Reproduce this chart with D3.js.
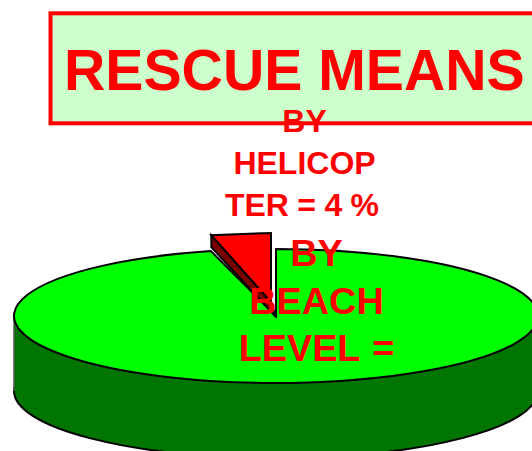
<!DOCTYPE html>
<html>
<head>
<meta charset="UTF-8">
<title>Rescue Means</title>
<style>
  html, body { margin: 0; padding: 0; background: #fff; overflow: hidden; }
  svg { display: block; }
  text { font-family: "Liberation Sans", Arial, sans-serif; font-weight: bold; fill: #ff0000; }
</style>
</head>
<body>
<svg id="chart"></svg>
<script src="https://cdn.jsdelivr.net/npm/d3@7/dist/d3.min.js"></script>
<script>
// data (beach level value is cut off in the source, 96 = rest of 100)
var categories = ["By helicopter", "By beach level"];
var values = [4, 96];
var titleText = "RESCUE MEANS";
var helicopterLines = ["BY", "HELICOP", "TER = 4 %"];
var beachLines = ["BY", "BEACH", "LEVEL ="];

var width = 532;
var height = 451;
var cx = 276;
var cy = 316;
var rx = 262;
var ry = 67;
var depth = 75;

// exploded slice is drawn a bit narrower and taller than the disc
var sliceCx = 271;
var sliceCy = 302;
var sliceRx = 240;
var sliceRy = 69;

var svg = d3.select("#chart").attr("width", width).attr("height", height);

// title box
svg.append("rect")
  .attr("x", 50.5).attr("y", 13.3)
  .attr("width", 500).attr("height", 110)
  .attr("fill", "#ccffcc")
  .attr("stroke", "#ff0000")
  .attr("stroke-width", 4);

svg.append("text")
  .attr("x", 64).attr("y", 90)
  .attr("font-size", 57.2)
  .text(titleText);

// pie starts left of 12 o'clock so the small slice ends on the vertical
var total = d3.sum(values);
var start = -2 * Math.PI * values[0] / total;
var pie = d3.pie().sort(null).startAngle(start).endAngle(start + 2 * Math.PI);
var slices = pie(values);
var arc = d3.arc().innerRadius(0).outerRadius(rx);

var pieGroup = svg.append("g").attr("id", "pie");

// side wall of the disc
pieGroup.append("ellipse")
  .attr("cx", cx).attr("cy", cy + depth)
  .attr("rx", rx).attr("ry", ry)
  .attr("fill", "#007600")
  .attr("stroke", "#000")
  .attr("stroke-width", 2);
pieGroup.append("rect")
  .attr("x", cx - rx).attr("y", cy)
  .attr("width", rx * 2).attr("height", depth)
  .attr("fill", "#007600");
pieGroup.append("line")
  .attr("x1", cx - rx).attr("x2", cx - rx)
  .attr("y1", cy).attr("y2", cy + depth)
  .attr("stroke", "#555").attr("stroke-width", 1.5);

// big slice top
pieGroup.append("path")
  .attr("d", arc(slices[1]))
  .attr("transform", "translate(" + cx + "," + cy + ") scale(1," + (ry / rx) + ")")
  .attr("fill", "#00ff00")
  .attr("stroke", "#000")
  .attr("stroke-width", 2)
  .style("vector-effect", "non-scaling-stroke");

// small slice: outer edge is a chord between the projected slice angles
function project(angle) {
  return [sliceCx + sliceRx * Math.sin(angle), sliceCy - sliceRy * Math.cos(angle)];
}
var tipLeft = project(slices[0].startAngle);
var tipRight = project(slices[0].endAngle);
var apex = [sliceCx, sliceCy];

// dark cut face under the slice
pieGroup.append("path")
  .attr("d", d3.line()([
    tipLeft,
    [tipLeft[0], tipLeft[1] + 12],
    [apex[0] + 5, apex[1] + 15],
    apex
  ]) + "Z")
  .attr("fill", "#7a0000")
  .attr("stroke", "#000")
  .attr("stroke-width", 2);

pieGroup.append("path")
  .attr("d", d3.line()([apex, tipLeft, tipRight]) + "Z")
  .attr("fill", "#ff0000")
  .attr("stroke", "#000")
  .attr("stroke-width", 2);

// labels
svg.append("g").selectAll("text")
  .data(helicopterLines)
  .enter().append("text")
  .attr("x", function (d, i) { return i == 2 ? 302 : 304.5; })
  .attr("y", function (d, i) { return 132 + i * 42; })
  .attr("text-anchor", "middle")
  .attr("font-size", 32)
  .attr("word-spacing", function (d, i) { return i == 2 ? -0.5 : 0; })
  .text(function (d) { return d; });

svg.append("g").selectAll("text")
  .data(beachLines)
  .enter().append("text")
  .attr("x", 316.5)
  .attr("y", function (d, i) { return 266 + i * 47.5; })
  .attr("text-anchor", "middle")
  .attr("font-size", 37.8)
  .attr("word-spacing", function (d, i) { return i == 2 ? 2 : 0; })
  .text(function (d) { return d; });
</script>
</body>
</html>
